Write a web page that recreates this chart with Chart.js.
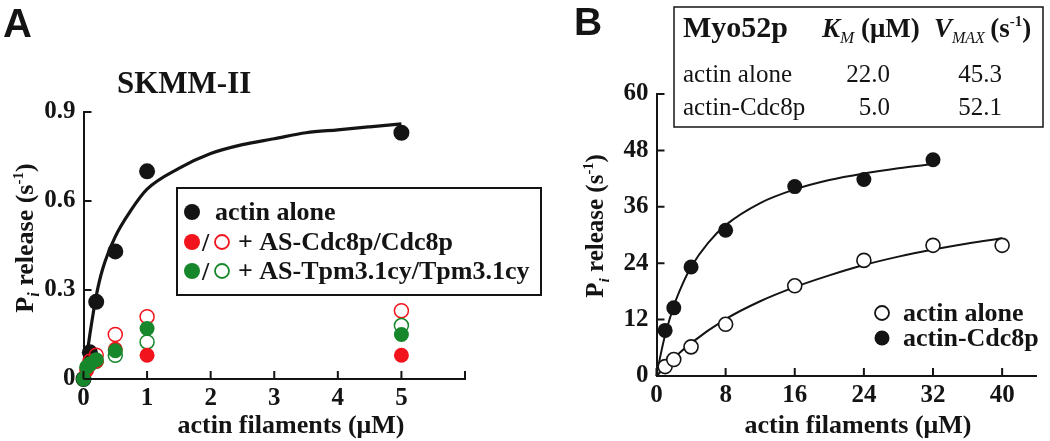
<!DOCTYPE html>
<html>
<head>
<meta charset="utf-8">
<script src="https://cdn.jsdelivr.net/npm/chart.js@4/dist/chart.umd.min.js"></script>
<style>
  html, body { margin: 0; padding: 0; background: #fff; }
  #wrap { position: relative; width: 1050px; height: 441px; overflow: hidden; }
  #chartA { position: absolute; left: 0; top: 0; }
  #chartB { position: absolute; left: 550px; top: 0; }
</style>
</head>
<body>
<div id="wrap">
  <canvas id="chartA" width="550" height="441"></canvas>
  <canvas id="chartB" width="500" height="441"></canvas>
</div>
<script>
// ---- panel A: SKMM-II ----
const aActinX = [0, 0.1, 0.2, 0.5, 1, 5];
const aActin = [0, 0.09, 0.26, 0.43, 0.70, 0.83];
const aRedFilledX = [0.05, 0.1, 0.2, 0.5, 1, 5];
const aRedFilled = [0.03, 0.05, 0.06, 0.10, 0.08, 0.08];
const aRedOpenX = [0.1, 0.2, 0.5, 1, 5];
const aRedOpen = [0.06, 0.08, 0.15, 0.21, 0.23];
const aGreenFilledX = [0, 0.05, 0.1, 0.2, 0.5, 1, 5];
const aGreenFilled = [0, 0.04, 0.05, 0.065, 0.095, 0.17, 0.15];
const aGreenOpenX = [0.1, 0.2, 0.5, 1, 5];
const aGreenOpen = [0.05, 0.06, 0.08, 0.125, 0.18];
const aFitX = [0, 0.1, 0.2, 0.3, 0.5, 0.75, 1, 1.5, 2, 2.5, 3, 3.5, 4, 4.5, 5];
const aFit = [0, 0.15, 0.28, 0.37, 0.48, 0.57, 0.64, 0.71, 0.76, 0.79, 0.81, 0.83, 0.84, 0.85, 0.86];
const aXTicks = [0, 1, 2, 3, 4, 5, 6];
const aXLabels = ['0', '1', '2', '3', '4', '5', ''];
const aYTicks = [0, 0.3, 0.6, 0.9];
const aYLabels = ['0', '0.3', '0.6', '0.9'];
const aLegend = ['actin alone', '+ AS-Cdc8p/Cdc8p', '+ AS-Tpm3.1cy/Tpm3.1cy'];

// ---- panel B: Myo52p ----
const bAloneX = [1, 2, 4, 8, 16, 24, 32, 40];
const bAlone = [2.0, 3.5, 6.2, 11.0, 19.2, 24.6, 27.8, 27.8];
const bCdc8X = [1, 2, 4, 8, 16, 24, 32];
const bCdc8 = [9.7, 14.5, 23.2, 31.0, 40.3, 41.8, 46.0];
const bFitAloneX = [0, 2, 4, 8, 12, 16, 20, 24, 28, 32, 36, 40];
const bFitAlone = [0, 3.8, 7.0, 12.1, 15.9, 18.9, 21.4, 23.6, 25.4, 26.9, 28.2, 29.3];
const bFitCdc8X = [0, 0.5, 1, 2, 3, 4, 6, 8, 12, 16, 20, 24, 28, 32];
const bFitCdc8 = [0, 4.7, 8.7, 14.9, 19.5, 23.2, 28.4, 32.1, 36.8, 39.7, 41.7, 43.1, 44.2, 45.1];
const bXTicks = [0, 8, 16, 24, 32, 40];
const bXLabels = ['0', '8', '16', '24', '32', '40'];
const bYTicks = [0, 12, 24, 36, 48, 60];
const bYLabels = ['0', '12', '24', '36', '48', '60'];
const bTableRows = ['actin alone', 'actin-Cdc8p'];
const bKm = ['22.0', '5.0'];
const bVmax = ['45.3', '52.1'];

const ink = '#141414';
const red = '#f2141c';
const green = '#17872b';
const serif = '"Liberation Serif", "Times New Roman", serif';
const sans = '"Liberation Sans", Arial, sans-serif';
const bold = s => `bold ${s}px ${serif}`;

const pts = (xs, ys) => xs.map((x, i) => ({ x: x, y: ys[i] }));

// draw a run of text pieces: [text, font, dy]
function rich(ctx, parts, x, y, align) {
  let w = 0;
  parts.forEach(p => { ctx.font = p[1]; w += ctx.measureText(p[0]).width; });
  let cx = align === 'center' ? x - w / 2 : (align === 'right' ? x - w : x);
  ctx.textAlign = 'left';
  ctx.textBaseline = 'alphabetic';
  parts.forEach(p => {
    ctx.font = p[1];
    ctx.fillText(p[0], cx, y + (p[2] || 0));
    cx += ctx.measureText(p[0]).width;
  });
}

function dot(ctx, x, y, r, color, filled) {
  ctx.beginPath();
  ctx.arc(x, y, r, 0, Math.PI * 2);
  if (filled) { ctx.fillStyle = color; ctx.fill(); }
  else { ctx.strokeStyle = color; ctx.lineWidth = 1.8; ctx.stroke(); }
}

const piTitle = size => [
  ['P', bold(size)], ['i', `italic bold ${size * 0.62}px ${serif}`, 6],
  [' release (s', bold(size)], ['-1', bold(size * 0.58), -10], [')', bold(size)]
];

// inward tick marks on both axes
const innerTicks = {
  id: 'innerTicks',
  afterDatasetsDraw(chart, args, opts) {
    const { ctx, chartArea: a, scales: { x, y } } = chart;
    ctx.save();
    ctx.strokeStyle = ink;
    ctx.lineWidth = 2;
    ctx.beginPath();
    opts.xTicks.forEach(v => {
      const px = x.getPixelForValue(v);
      ctx.moveTo(px, a.bottom); ctx.lineTo(px, a.bottom - 8);
    });
    opts.yTicks.forEach(v => {
      const py = y.getPixelForValue(v);
      ctx.moveTo(a.left, py); ctx.lineTo(a.left + 8, py);
    });
    ctx.stroke();
    ctx.restore();
  }
};

const decorA = {
  id: 'decorA',
  afterDraw(chart) {
    const ctx = chart.ctx;
    ctx.save();
    ctx.fillStyle = ink;
    ctx.font = `bold 40px ${sans}`;
    ctx.fillText('A', 3, 37);
    ctx.font = bold(31);
    ctx.fillText('SKMM-II', 117, 93);
    rich(ctx, [['actin filaments (\u03bcM)', bold(26)]], 291, 433, 'center');
    ctx.save();
    ctx.translate(33, 238);
    ctx.rotate(-Math.PI / 2);
    ctx.fillStyle = ink;
    rich(ctx, piTitle(26), 0, 0, 'center');
    ctx.restore();

    // legend box
    ctx.fillStyle = '#fff';
    ctx.fillRect(177, 188, 364, 107);
    ctx.strokeStyle = ink;
    ctx.lineWidth = 2;
    ctx.strokeRect(177, 188, 364, 107);
    dot(ctx, 192, 212, 8, ink, true);
    dot(ctx, 192, 242, 8, red, true);
    dot(ctx, 222, 242, 7, red, false);
    dot(ctx, 192, 271, 8, green, true);
    dot(ctx, 222, 271, 7, green, false);
    ctx.fillStyle = ink;
    ctx.font = bold(26);
    ctx.fillText('/', 202, 251);
    ctx.fillText('/', 202, 280);
    ctx.fillText(aLegend[0], 215, 220);
    ctx.fillText(aLegend[1], 238, 250);
    ctx.fillText(aLegend[2], 238, 279);
    ctx.restore();
  }
};

const decorB = {
  id: 'decorB',
  afterDraw(chart) {
    const ctx = chart.ctx;
    const ox = -550; // page x -> canvas x
    ctx.save();
    ctx.fillStyle = ink;
    ctx.font = `bold 39px ${sans}`;
    ctx.fillText('B', 574 + ox, 35);

    // kinetics table
    ctx.strokeStyle = ink;
    ctx.lineWidth = 1.5;
    ctx.strokeRect(674 + ox, 7, 369, 120);
    ctx.font = bold(30);
    ctx.fillText('Myo52p', 683 + ox, 37);
    rich(ctx, [['K', `italic bold 27px ${serif}`], ['M', `italic 17px ${serif}`, 6], [' (\u03bcM)', bold(27)]], 822 + ox, 37, 'left');
    rich(ctx, [['V', `italic bold 27px ${serif}`], ['MAX', `italic 16px ${serif}`, 6], ['\u2009(s', bold(27)], ['-1', bold(15), -11], [')', bold(27)]], 934 + ox, 37, 'left');
    ctx.font = `25px ${serif}`;
    bTableRows.forEach((r, i) => {
      const yy = 82 + i * 33;
      ctx.textAlign = 'left';
      ctx.fillText(r, 683 + ox, yy);
      ctx.textAlign = 'right';
      ctx.fillText(bKm[i], 890 + ox, yy);
      ctx.fillText(bVmax[i], 1002 + ox, yy);
    });
    ctx.textAlign = 'left';

    // legend
    dot(ctx, 882 + ox, 313, 7, ink, false);
    dot(ctx, 882 + ox, 338, 7.5, ink, true);
    ctx.fillStyle = ink;
    ctx.font = bold(26);
    ctx.fillText('actin alone', 903 + ox, 321);
    ctx.fillText('actin-Cdc8p', 903 + ox, 346);

    rich(ctx, [['actin filaments (\u03bcM)', bold(26)]], 858 + ox, 433, 'center');
    ctx.save();
    ctx.translate(603 + ox, 226);
    ctx.rotate(-Math.PI / 2);
    ctx.fillStyle = ink;
    rich(ctx, piTitle(25), 0, 0, 'center');
    ctx.restore();
    ctx.restore();
  }
};

// fixed tick lists so Chart.js does not drop or add any
function axes(xMax, xTicks, xLabels, yMax, yTicks, yLabels, yWidth, xHeight) {
  const tickFont = { family: serif, weight: 'bold', size: 25 };
  return {
    x: {
      type: 'linear', min: 0, max: xMax,
      grid: { display: false, drawTicks: false, tickLength: 0 },
      border: { display: true, color: ink, width: 2 },
      ticks: { color: ink, font: tickFont, padding: 5, maxRotation: 0, autoSkip: false,
        callback: (v, i) => xLabels[i] },
      afterBuildTicks: s => { s.ticks = xTicks.map(v => ({ value: v })); },
      afterFit: s => { s.height = xHeight; }
    },
    y: {
      type: 'linear', min: 0, max: yMax,
      grid: { display: false, drawTicks: false, tickLength: 0 },
      border: { display: true, color: ink, width: 2 },
      ticks: { color: ink, font: tickFont, padding: 8, autoSkip: false,
        callback: (v, i) => yLabels[i] },
      afterBuildTicks: s => { s.ticks = yTicks.map(v => ({ value: v })); },
      afterFit: s => { s.width = yWidth; }
    }
  };
}

new Chart(document.getElementById('chartA'), {
  type: 'scatter',
  data: {
    datasets: [
      { data: pts(aGreenFilledX, aGreenFilled), order: 1, pointRadius: 7.5, pointBackgroundColor: green, pointBorderWidth: 0, clip: false },
      { data: pts(aRedFilledX, aRedFilled), order: 2, pointRadius: 7.5, pointBackgroundColor: red, pointBorderWidth: 0, clip: false },
      { data: pts(aGreenOpenX, aGreenOpen), order: 3, pointRadius: 7, pointBackgroundColor: 'rgba(255,255,255,0)', pointBorderColor: green, pointBorderWidth: 1.5, clip: false },
      { data: pts(aRedOpenX, aRedOpen), order: 4, pointRadius: 7, pointBackgroundColor: 'rgba(255,255,255,0)', pointBorderColor: red, pointBorderWidth: 1.5, clip: false },
      { data: pts(aActinX, aActin), order: 5, pointRadius: 8, pointBackgroundColor: ink, pointBorderWidth: 0, clip: false },
      { data: pts(aFitX, aFit), order: 6, showLine: true, pointRadius: 0, borderColor: ink, borderWidth: 3.2, cubicInterpolationMode: 'monotone', clip: false }
    ]
  },
  options: {
    responsive: false,
    animation: false,
    layout: { padding: { left: 0, top: 112, right: 85, bottom: 0 } },
    plugins: { legend: { display: false }, tooltip: { enabled: false }, innerTicks: { xTicks: aXTicks, yTicks: aYTicks } },
    scales: axes(6, aXTicks, aXLabels, 0.9, aYTicks, aYLabels, 83.5, 62)
  },
  plugins: [innerTicks, decorA]
});

new Chart(document.getElementById('chartB'), {
  type: 'scatter',
  data: {
    datasets: [
      { data: pts(bCdc8X, bCdc8), order: 1, pointRadius: 7.5, pointBackgroundColor: ink, pointBorderWidth: 0, clip: false },
      { data: pts(bAloneX, bAlone), order: 2, pointRadius: 7, pointBackgroundColor: '#fff', pointBorderColor: ink, pointBorderWidth: 1.6, clip: false },
      { data: pts(bFitCdc8X, bFitCdc8), order: 3, showLine: true, pointRadius: 0, borderColor: ink, borderWidth: 2, cubicInterpolationMode: 'monotone', clip: false },
      { data: pts(bFitAloneX, bFitAlone), order: 4, showLine: true, pointRadius: 0, borderColor: ink, borderWidth: 2, cubicInterpolationMode: 'monotone', clip: false }
    ]
  },
  options: {
    responsive: false,
    animation: false,
    layout: { padding: { left: 0, top: 94, right: 13.3, bottom: 0 } },
    plugins: { legend: { display: false }, tooltip: { enabled: false }, innerTicks: { xTicks: bXTicks, yTicks: bYTicks } },
    scales: axes(44, bXTicks, bXLabels, 60, bYTicks, bYLabels, 106.5, 65)
  },
  plugins: [innerTicks, decorB]
});
</script>
</body>
</html>
